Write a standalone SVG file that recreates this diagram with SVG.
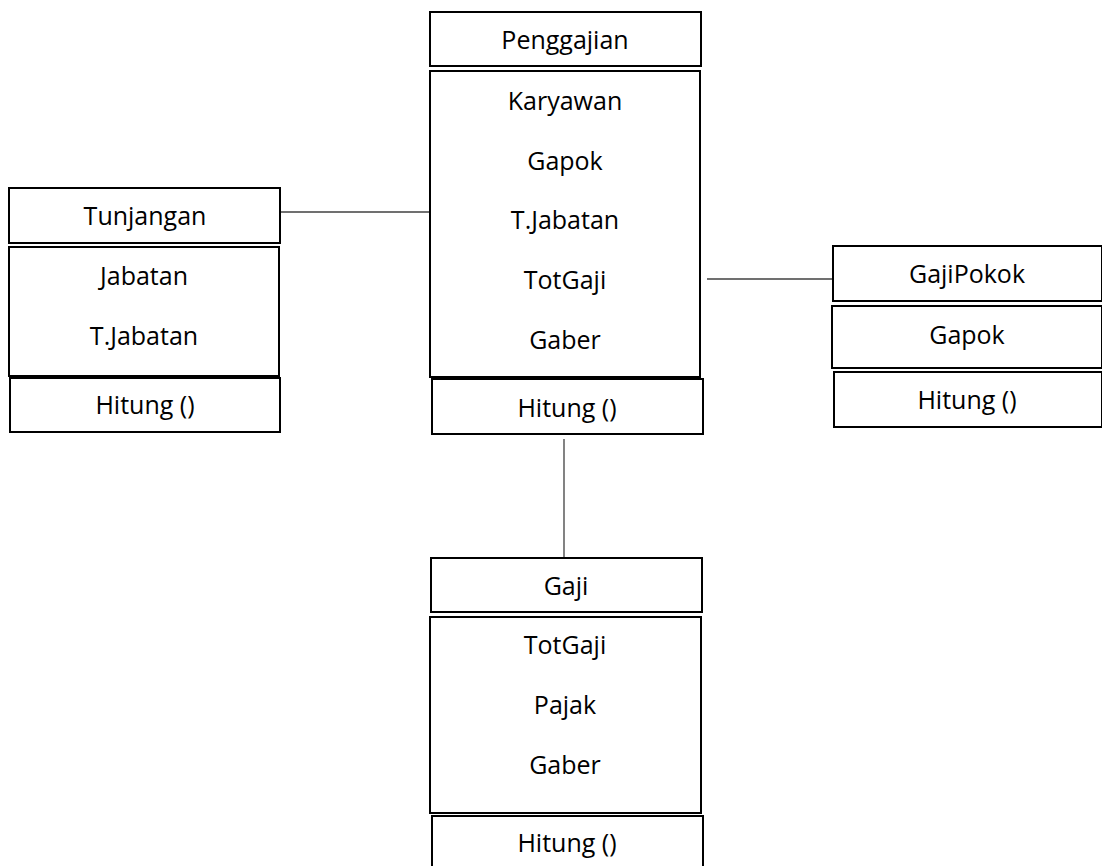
<svg xmlns="http://www.w3.org/2000/svg" width="1102" height="866" viewBox="0 0 1102 866">
  <style>
    .box { fill: #ffffff; stroke: #000000; stroke-width: 2; }
    .lbl { font-family: "Open Sans", "Liberation Sans", sans-serif; font-size: 25px; fill: #000000; text-anchor: middle; }
    .link { stroke: #404040; stroke-width: 1.3; fill: none; }
  </style>
  <rect width="1102" height="866" fill="#ffffff"/>

  <!-- associations between classes -->
  <g id="connectors">
    <line class="link" x1="281" y1="212" x2="430" y2="212"/>
    <line class="link" x1="707" y1="279" x2="833" y2="279"/>
    <line class="link" x1="564" y1="439" x2="564" y2="557"/>
  </g>

  <!-- class Penggajian -->
  <g id="penggajian">
    <rect class="box" x="430" y="12" width="271" height="54"/>
    <text class="lbl" x="565" y="49">Penggajian</text>
    <rect class="box" x="430" y="71" width="270" height="306"/>
    <text class="lbl" x="565" y="110">Karyawan</text>
    <text class="lbl" x="565" y="170">Gapok</text>
    <text class="lbl" x="565" y="229">T.Jabatan</text>
    <text class="lbl" x="565" y="289">TotGaji</text>
    <text class="lbl" x="565" y="349">Gaber</text>
    <rect class="box" x="432" y="379" width="271" height="55"/>
    <text class="lbl" x="567" y="417">Hitung ()</text>
  </g>

  <!-- class Tunjangan -->
  <g id="tunjangan">
    <rect class="box" x="9" y="188" width="271" height="55"/>
    <text class="lbl" x="145" y="225">Tunjangan</text>
    <rect class="box" x="9" y="247" width="270" height="129"/>
    <text class="lbl" x="144" y="285">Jabatan</text>
    <text class="lbl" x="144" y="345">T.Jabatan</text>
    <rect class="box" x="10" y="378" width="270" height="54"/>
    <text class="lbl" x="145" y="414">Hitung ()</text>
  </g>

  <!-- class GajiPokok -->
  <g id="gajipokok">
    <rect class="box" x="833" y="246" width="269" height="55"/>
    <text class="lbl" x="967" y="283">GajiPokok</text>
    <rect class="box" x="832" y="306" width="270" height="62"/>
    <text class="lbl" x="967" y="344">Gapok</text>
    <rect class="box" x="834" y="372" width="268" height="55"/>
    <text class="lbl" x="967" y="409">Hitung ()</text>
  </g>

  <!-- class Gaji -->
  <g id="gaji">
    <rect class="box" x="431" y="558" width="271" height="54"/>
    <text class="lbl" x="566" y="595">Gaji</text>
    <rect class="box" x="430" y="617" width="271" height="196"/>
    <text class="lbl" x="565" y="654">TotGaji</text>
    <text class="lbl" x="565" y="714">Pajak</text>
    <text class="lbl" x="565" y="774">Gaber</text>
    <rect class="box" x="432" y="816" width="271" height="52"/>
    <text class="lbl" x="567" y="852">Hitung ()</text>
  </g>
</svg>
